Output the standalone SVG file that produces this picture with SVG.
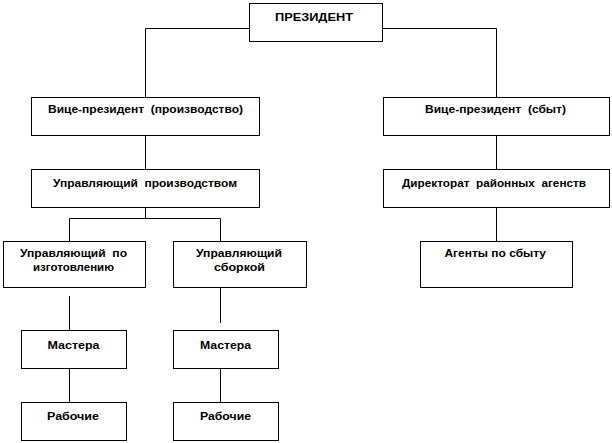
<svg xmlns="http://www.w3.org/2000/svg" width="612" height="443" viewBox="0 0 612 443">
<style>
.box{fill:#fff;stroke:#000;stroke-width:1}
.ln{fill:none;stroke:#000;stroke-width:1}
text{font-family:"Liberation Sans",Arial,sans-serif;font-weight:bold;font-size:11px;fill:#000;white-space:pre}
</style>
<rect width="612" height="443" fill="#fff"/>
<g id="connectors" class="ln">
<path d="M249.5 28.5H145.5V97.5"/>
<path d="M382.5 28.5H496.5V97.5"/>
<path d="M145.5 135.5V169.5"/>
<path d="M496.5 135.5V169.5"/>
<path d="M145.5 207.5V218.5"/>
<path d="M69.5 241.5V218.5H220.5V241.5"/>
<path d="M496.5 207.5V241.5"/>
<path d="M69.5 296V330.5"/>
<path d="M220.5 287.5V323"/>
<path d="M69.5 368.5V402.5"/>
<path d="M220.5 368.5V402.5"/>
</g>
<g id="president"><rect class="box" x="249.5" y="3.5" width="133" height="38"/><text x="275" y="21" textLength="78" lengthAdjust="spacingAndGlyphs">ПРЕЗИДЕНТ</text></g>
<g id="vp-production"><rect class="box" x="31.5" y="97.5" width="228" height="38"/><text x="48" y="112.5" textLength="195" lengthAdjust="spacingAndGlyphs">Вице-президент  (производство)</text></g>
<g id="vp-sales"><rect class="box" x="383.5" y="97.5" width="226" height="38"/><text x="425" y="112.5" textLength="141" lengthAdjust="spacingAndGlyphs">Вице-президент  (сбыт)</text></g>
<g id="production-manager"><rect class="box" x="31.5" y="169.5" width="228" height="38"/><text x="53" y="187" textLength="184" lengthAdjust="spacingAndGlyphs">Управляющий  производством</text></g>
<g id="district-agencies"><rect class="box" x="383.5" y="169.5" width="226" height="38"/><text x="402" y="187" textLength="184" lengthAdjust="spacingAndGlyphs">Директорат  районных  агенств</text></g>
<g id="manufacturing-manager"><rect class="box" x="3.5" y="241.5" width="142" height="46"/><text x="20" y="257" textLength="107" lengthAdjust="spacingAndGlyphs">Управляющий  по</text><text x="33" y="271" textLength="81" lengthAdjust="spacingAndGlyphs">изготовлению</text></g>
<g id="assembly-manager"><rect class="box" x="173.5" y="241.5" width="133" height="46"/><text x="196" y="257" textLength="86" lengthAdjust="spacingAndGlyphs">Управляющий</text><text x="214" y="271" textLength="51" lengthAdjust="spacingAndGlyphs">сборкой</text></g>
<g id="sales-agents"><rect class="box" x="420.5" y="241.5" width="152" height="46"/><text x="444.5" y="257" textLength="101.5" lengthAdjust="spacingAndGlyphs">Агенты по сбыту</text></g>
<g id="masters-1"><rect class="box" x="21.5" y="330.5" width="105" height="38"/><text x="47.5" y="348.5" textLength="52" lengthAdjust="spacingAndGlyphs">Мастера</text></g>
<g id="masters-2"><rect class="box" x="173.5" y="330.5" width="105" height="38"/><text x="200" y="348.5" textLength="51" lengthAdjust="spacingAndGlyphs">Мастера</text></g>
<g id="workers-1"><rect class="box" x="21.5" y="402.5" width="105" height="38"/><text x="47" y="420" textLength="52" lengthAdjust="spacingAndGlyphs">Рабочие</text></g>
<g id="workers-2"><rect class="box" x="173.5" y="402.5" width="105" height="38"/><text x="200" y="420" textLength="51" lengthAdjust="spacingAndGlyphs">Рабочие</text></g>
</svg>
